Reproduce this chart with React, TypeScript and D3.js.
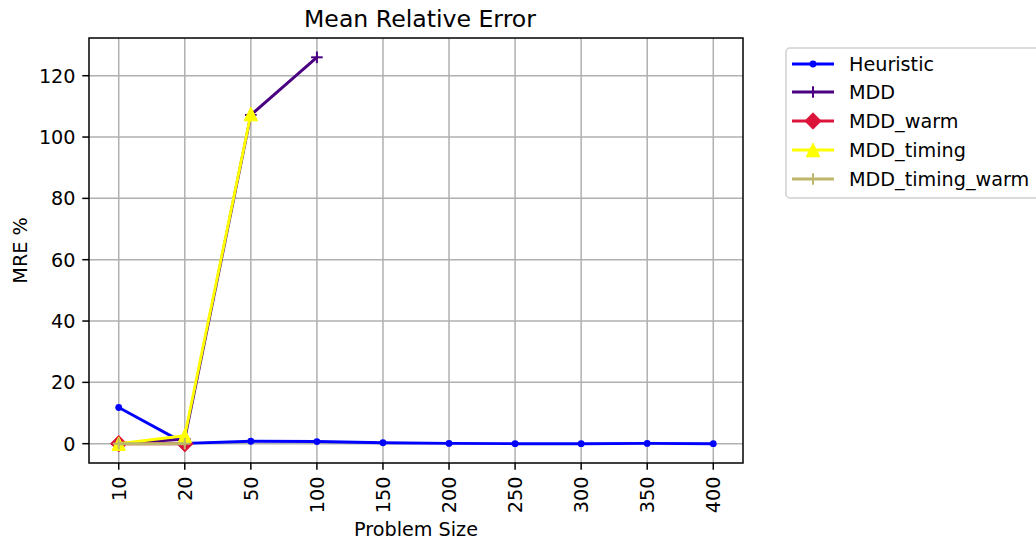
import React from "react";
import * as d3 from "d3";

// Problem sizes on the categorical x axis
const sizes = ["10", "20", "50", "100", "150", "200", "250", "300", "350", "400"];

// Mean relative error (%) per method; null where the method has no result
const heuristic = [11.8, 0.1, 0.8, 0.7, 0.3, 0.1, 0.0, 0.0, 0.1, 0.0];
const mdd = [0.0, 1.5, 107.2, 126.0, null, null, null, null, null, null];
const mddWarm = [0.0, 0.0, null, null, null, null, null, null, null, null];
const mddTiming = [0.0, 2.6, 107.5, null, null, null, null, null, null, null];
const mddTimingWarm = [0.0, 0.0, null, null, null, null, null, null, null, null];

const yTicks = [0, 20, 40, 60, 80, 100, 120];

type Marker = "dot" | "plus" | "diamond" | "triangle";
interface Series {
  name: string;
  values: (number | null)[];
  color: string;
  marker: Marker;
}

const series: Series[] = [
  { name: "Heuristic", values: heuristic, color: "#0000ff", marker: "dot" },
  { name: "MDD", values: mdd, color: "#4b0082", marker: "plus" },
  { name: "MDD_warm", values: mddWarm, color: "#dc143c", marker: "diamond" },
  { name: "MDD_timing", values: mddTiming, color: "#ffff00", marker: "triangle" },
  { name: "MDD_timing_warm", values: mddTimingWarm, color: "#bdb76b", marker: "plus" },
];

const W = 1036;
const H = 544;
const left = 89;
const right = 743;
const top = 38;
const bottom = 463;
const FONT = "'DejaVu Sans', sans-serif";

function MarkerShape({ kind, x, y, color }: { kind: Marker; x: number; y: number; color: string }) {
  if (kind === "dot") return <circle cx={x} cy={y} r={3.4} fill={color} />;
  if (kind === "plus") {
    const h = 5.8;
    return (
      <g stroke={color} strokeWidth={2}>
        <line x1={x - h} y1={y} x2={x + h} y2={y} />
        <line x1={x} y1={y - h} x2={x} y2={y + h} />
      </g>
    );
  }
  if (kind === "diamond") {
    const h = 8.2;
    return <path d={`M${x},${y - h}L${x + h},${y}L${x},${y + h}L${x - h},${y}Z`} fill={color} stroke={color} strokeWidth={1} />;
  }
  const h = 6.8;
  return <path d={`M${x},${y - h}L${x + h},${y + h}L${x - h},${y + h}Z`} fill={color} stroke={color} strokeWidth={1} />;
}

export default function App() {
  const x = d3.scalePoint<string>().domain(sizes).range([left, right]).padding(0.45);
  const y = d3.scaleLinear().domain([-6.3, 132.3]).range([bottom, top]);

  const line = d3
    .line<[string, number | null]>()
    .defined((d) => d[1] !== null)
    .x((d) => x(d[0]) as number)
    .y((d) => y(d[1] as number));

  const legendX = 786;
  const legendY = 48;
  const legendRows = [64, 92, 121, 150, 179];

  return (
    <svg width={W} height={H} style={{ position: "absolute", left: 0, top: 0, background: "#fff" }} fontFamily={FONT}>
      <defs>
        <clipPath id="plot-area">
          <rect x={left} y={top} width={right - left} height={bottom - top} />
        </clipPath>
      </defs>
      <rect width={W} height={H} fill="#fff" />

      {/* grid */}
      <g stroke="#b0b0b0" strokeWidth={1.5}>
        {sizes.map((s) => (
          <line key={s} x1={x(s)} x2={x(s)} y1={top} y2={bottom} />
        ))}
        {yTicks.map((t) => (
          <line key={t} x1={left} x2={right} y1={y(t)} y2={y(t)} />
        ))}
      </g>

      {/* series */}
      <g clipPath="url(#plot-area)">
        {series.map((s) => {
          const pts = sizes.map((c, i) => [c, s.values[i]] as [string, number | null]);
          return (
            <g key={s.name}>
              <path d={line(pts) ?? ""} fill="none" stroke={s.color} strokeWidth={2.9} strokeLinejoin="round" strokeLinecap="square" />
              {pts
                .filter((p) => p[1] !== null)
                .map((p) => (
                  <MarkerShape key={p[0]} kind={s.marker} x={x(p[0]) as number} y={y(p[1] as number)} color={s.color} />
                ))}
            </g>
          );
        })}
      </g>

      {/* frame */}
      <rect x={left} y={top} width={right - left} height={bottom - top} fill="none" stroke="#000" strokeWidth={1.5} />

      {/* y axis */}
      {yTicks.map((t) => (
        <g key={t}>
          <line x1={left - 6.7} x2={left} y1={y(t)} y2={y(t)} stroke="#000" strokeWidth={1.5} />
          <text x={left - 13.5} y={y(t)} dy="0.36em" textAnchor="end" fontSize={19.2} fill="#000">
            {t}
          </text>
        </g>
      ))}

      {/* x axis */}
      {sizes.map((s) => (
        <g key={s}>
          <line x1={x(s)} x2={x(s)} y1={bottom} y2={bottom + 6.7} stroke="#000" strokeWidth={1.5} />
          <text
            transform={`translate(${x(s)},${bottom + 13.5}) rotate(-90)`}
            dy="0.36em"
            textAnchor="end"
            fontSize={19.2}
            fill="#000"
          >
            {s}
          </text>
        </g>
      ))}

      <text x={(left + right) / 2} y={536} textAnchor="middle" fontSize={19.2} fill="#000">
        Problem Size
      </text>
      <text transform={`translate(27,${(top + bottom) / 2}) rotate(-90)`} textAnchor="middle" fontSize={19.2} fill="#000">
        MRE %
      </text>
      <text x={(left + right) / 2 + 4} y={27} textAnchor="middle" fontSize={23.6} fill="#000">
        Mean Relative Error
      </text>

      {/* legend */}
      <rect x={legendX} y={legendY} width={270} height={150} rx={4} fill="#fff" fillOpacity={0.8} stroke="#d0d0d0" strokeWidth={1.5} />
      {series.map((s, i) => {
        const ly = legendRows[i];
        return (
          <g key={s.name}>
            <line x1={792} x2={834} y1={ly} y2={ly} stroke={s.color} strokeWidth={2.9} />
            <MarkerShape kind={s.marker} x={813} y={ly} color={s.color} />
            <text x={849} y={ly} dy="0.36em" fontSize={19.2} fill="#000">
              {s.name}
            </text>
          </g>
        );
      })}
    </svg>
  );
}
